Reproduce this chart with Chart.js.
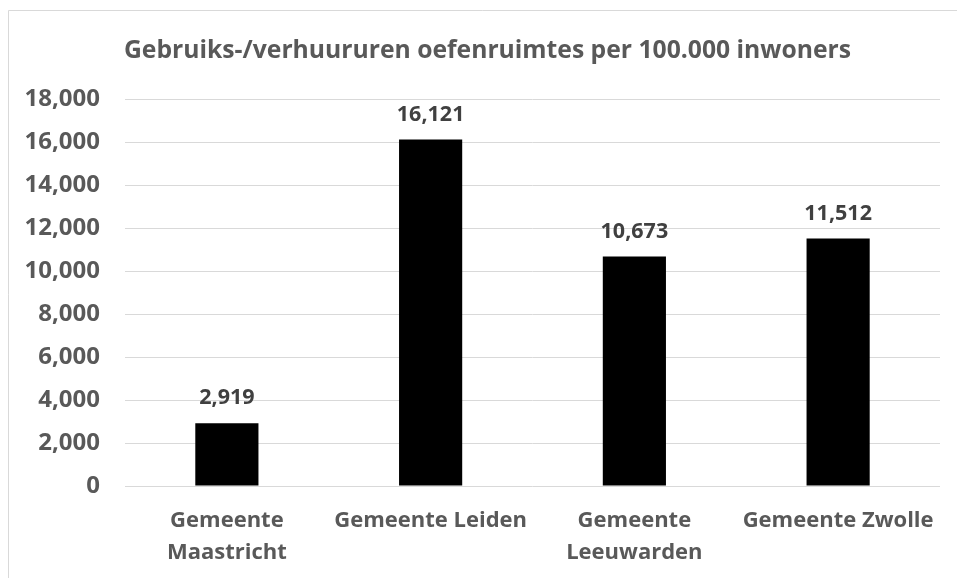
<!DOCTYPE html>
<html><head><meta charset="utf-8">
<script src="https://cdn.jsdelivr.net/npm/chart.js@4/dist/chart.umd.min.js"></script>
<style>html,body{margin:0;padding:0;background:#fff;}#wrap{width:957px;height:578px;position:relative;}</style>
</head><body><div id="wrap"><canvas id="c" width="957" height="578"></canvas></div>
<script>
const categories = [['Gemeente','Maastricht'], 'Gemeente Leiden', ['Gemeente','Leeuwarden'], 'Gemeente Zwolle'];
const values = [2919, 16121, 10673, 11512];
const yTicks = [0, 2000, 4000, 6000, 8000, 10000, 12000, 14000, 16000, 18000];
const titleText = 'Gebruiks-/verhuururen oefenruimtes per 100.000 inwoners';
const FONT = '"Open Sans", Lato, sans-serif';
const fmt = v => v.toLocaleString('en-US');

const frame = {
  id: 'frame',
  beforeDraw(chart) {
    const ctx = chart.ctx;
    ctx.save();
    ctx.fillStyle = '#fff';
    ctx.fillRect(0, 0, chart.width, chart.height);
    ctx.strokeStyle = '#d9d9d9';
    ctx.lineWidth = 1;
    ctx.beginPath();
    ctx.moveTo(8.5, chart.height);
    ctx.lineTo(8.5, 10.5);
    ctx.lineTo(chart.width, 10.5);
    ctx.stroke();
    ctx.restore();
  }
};
const labels = {
  id: 'vlabels',
  afterDatasetsDraw(chart) {
    const ctx = chart.ctx;
    const meta = chart.getDatasetMeta(0);
    ctx.save();
    ctx.font = 'bold 21.5px ' + FONT;
    ctx.fillStyle = '#404040';
    ctx.textAlign = 'center';
    ctx.textBaseline = 'middle';
    meta.data.forEach((el, i) => {
      ctx.fillText(fmt(values[i]), el.x, el.y - 25);
    });
    ctx.restore();
  }
};

new Chart(document.getElementById('c'), {
  type: 'bar',
  data: { labels: categories, datasets: [{ data: values, backgroundColor: '#000', borderWidth: 0, barPercentage: 0.31, categoryPercentage: 1 }] },
  options: {
    responsive: false, animation: false,
    layout: { padding: { left: 18, right: 0, top: 0, bottom: 0 } },
    plugins: {
      legend: { display: false }, tooltip: { enabled: false },
      title: { display: true, text: titleText, color: '#595959', font: { family: FONT, size: 24.7, weight: 'bold', lineHeight: 1.2 }, padding: { top: 36, bottom: 33.4 } }
    },
    scales: {
      x: {
        grid: { display: false, drawTicks: false }, border: { display: false },
        ticks: { color: '#595959', font: { family: FONT, size: 22, weight: 'bold', lineHeight: 1.45 }, padding: 19, maxRotation: 0, minRotation: 0, autoSkip: false },
        afterFit(s) { s.height = 92; }
      },
      y: {
        min: 0, max: 18000,
        afterBuildTicks(s) { s.ticks = yTicks.map(v => ({ value: v })); },
        grid: { color: '#d9d9d9', lineWidth: 1, drawTicks: false }, border: { display: false },
        ticks: { color: '#595959', font: { family: FONT, size: 24, weight: 'bold' }, padding: 25, callback: v => fmt(v) },
        afterFit(s) { s.width = 107; }
      },
      yRight: {
        position: 'right', min: 0, max: 18000,
        grid: { display: false, drawTicks: false }, border: { display: false },
        ticks: { display: false },
        afterFit(s) { s.width = 17; }
      }
    }
  },
  plugins: [frame, labels]
});
</script></body></html>
